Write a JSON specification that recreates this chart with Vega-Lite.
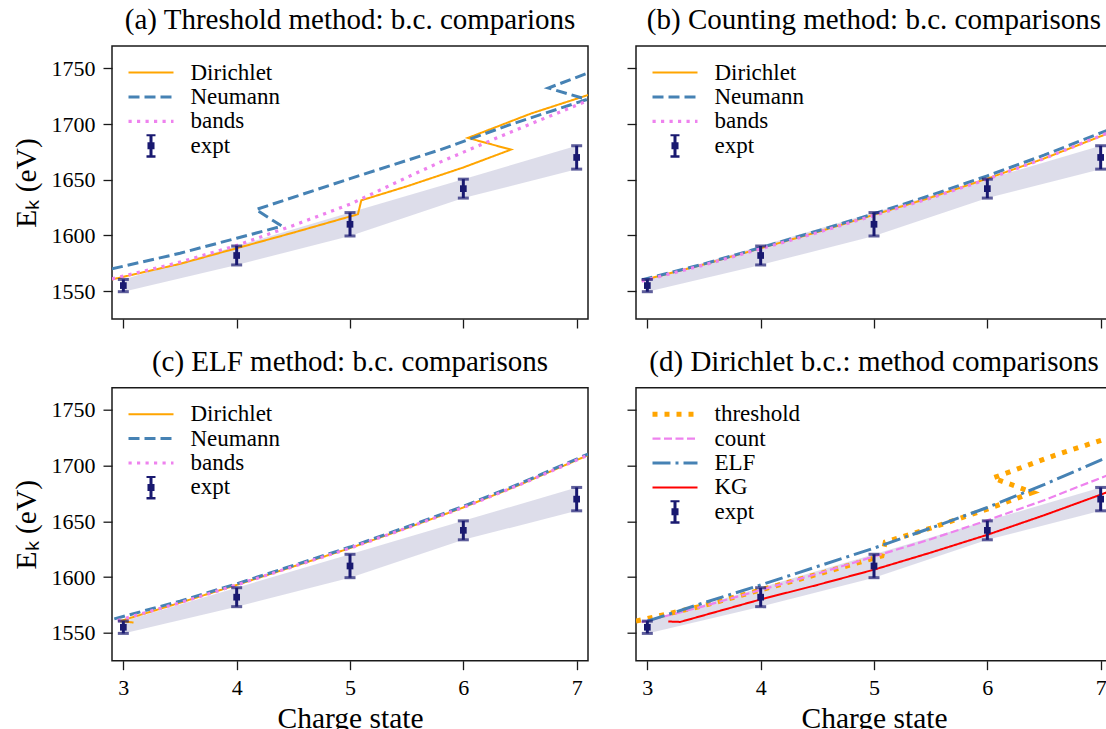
{
  "$schema": "https://vega.github.io/schema/vega-lite/v6.json",
  "padding": {"left": 10, "top": 5, "right": 0, "bottom": 0},
  "config": {
    "font": "Liberation Serif",
    "view": {"stroke": "#1a1a1a", "strokeWidth": 1.5},
    "axis": {
      "domain": false, "grid": false, "ticks": true, "tickSize": 9, "tickWidth": 1.3, "tickColor": "#1a1a1a",
      "labelFont": "Liberation Serif", "labelFontSize": 22, "labelColor": "#000", "labelPadding": 8,
      "titleFont": "Liberation Serif", "titleFontSize": 29.5, "titleFontWeight": "normal", "titleColor": "#000"
    },
    "axisY": {"titlePadding": 10, "format": "d"},
    "axisX": {"titlePadding": 6, "format": "d"},
    "legend": {
      "orient": "top-left", "offset": 6, "padding": 9,
      "labelFont": "Liberation Serif", "labelFontSize": 23, "labelColor": "#000",
      "symbolSize": 2025, "clipHeight": 23, "rowPadding": 0.4, "symbolOffset": 12.5, "labelOffset": 28
    },
    "title": {"font": "Liberation Serif", "fontSize": 29, "fontWeight": "normal", "color": "#000", "anchor": "middle", "baseline": "alphabetic", "offset": 11}
  },
  "datasets": {
    "expt": [
      {"x": 3, "y": 1555, "lo": 1549.5, "hi": 1560.5},
      {"x": 4, "y": 1582, "lo": 1573.5, "hi": 1590.5},
      {"x": 5, "y": 1610, "lo": 1599.5, "hi": 1620.5},
      {"x": 6, "y": 1642, "lo": 1633.5, "hi": 1650.5},
      {"x": 7, "y": 1670, "lo": 1659.5, "hi": 1680.5}
    ],
    "a": [
      {"series": "Dirichlet", "i": 0, "x": 2.9, "y": 1560.5},
      {"series": "Dirichlet", "i": 1, "x": 3.5, "y": 1574.5},
      {"series": "Dirichlet", "i": 2, "x": 4, "y": 1588.5},
      {"series": "Dirichlet", "i": 3, "x": 4.5, "y": 1602.5},
      {"series": "Dirichlet", "i": 4, "x": 5, "y": 1617},
      {"series": "Dirichlet", "i": 5, "x": 5.07, "y": 1619},
      {"series": "Dirichlet", "i": 6, "x": 5.1, "y": 1631.5},
      {"series": "Dirichlet", "i": 7, "x": 5.5, "y": 1644},
      {"series": "Dirichlet", "i": 8, "x": 6, "y": 1661},
      {"series": "Dirichlet", "i": 9, "x": 6.42, "y": 1677},
      {"series": "Dirichlet", "i": 10, "x": 6.04, "y": 1687.5},
      {"series": "Dirichlet", "i": 11, "x": 6.6, "y": 1709.5},
      {"series": "Dirichlet", "i": 12, "x": 7.1, "y": 1726},
      {"series": "Neumann", "i": 0, "x": 2.9, "y": 1570},
      {"series": "Neumann", "i": 1, "x": 3.5, "y": 1584},
      {"series": "Neumann", "i": 2, "x": 4, "y": 1597.5},
      {"series": "Neumann", "i": 3, "x": 4.4, "y": 1608.3},
      {"series": "Neumann", "i": 4, "x": 4.17, "y": 1623.2},
      {"series": "Neumann", "i": 5, "x": 5, "y": 1651},
      {"series": "Neumann", "i": 6, "x": 5.8, "y": 1677},
      {"series": "Neumann", "i": 7, "x": 6.4, "y": 1699},
      {"series": "Neumann", "i": 8, "x": 7.09, "y": 1722},
      {"series": "Neumann", "i": 9, "x": 6.75, "y": 1732.3},
      {"series": "Neumann", "i": 10, "x": 7.1, "y": 1745.8},
      {"series": "bands", "i": 0, "x": 2.9, "y": 1561},
      {"series": "bands", "i": 1, "x": 3.5, "y": 1576},
      {"series": "bands", "i": 2, "x": 4, "y": 1591},
      {"series": "bands", "i": 3, "x": 4.5, "y": 1609},
      {"series": "bands", "i": 4, "x": 5, "y": 1628},
      {"series": "bands", "i": 5, "x": 5.5, "y": 1652},
      {"series": "bands", "i": 6, "x": 5.8, "y": 1666},
      {"series": "bands", "i": 7, "x": 6.4, "y": 1692},
      {"series": "bands", "i": 8, "x": 7.1, "y": 1721}
    ],
    "b": [
      {"series": "Dirichlet", "i": 0, "x": 2.95, "y": 1559.5},
      {"series": "Dirichlet", "i": 1, "x": 3.5, "y": 1574},
      {"series": "Dirichlet", "i": 2, "x": 4, "y": 1588.5},
      {"series": "Dirichlet", "i": 3, "x": 4.5, "y": 1603},
      {"series": "Dirichlet", "i": 4, "x": 5, "y": 1618.5},
      {"series": "Dirichlet", "i": 5, "x": 5.5, "y": 1634},
      {"series": "Dirichlet", "i": 6, "x": 6, "y": 1651},
      {"series": "Dirichlet", "i": 7, "x": 6.5, "y": 1669},
      {"series": "Dirichlet", "i": 8, "x": 7, "y": 1689},
      {"series": "Dirichlet", "i": 9, "x": 7.1, "y": 1693},
      {"series": "Neumann", "i": 0, "x": 2.95, "y": 1560},
      {"series": "Neumann", "i": 1, "x": 3.5, "y": 1574.5},
      {"series": "Neumann", "i": 2, "x": 4, "y": 1589},
      {"series": "Neumann", "i": 3, "x": 4.5, "y": 1604},
      {"series": "Neumann", "i": 4, "x": 5, "y": 1619.5},
      {"series": "Neumann", "i": 5, "x": 5.5, "y": 1636},
      {"series": "Neumann", "i": 6, "x": 6, "y": 1653.5},
      {"series": "Neumann", "i": 7, "x": 6.5, "y": 1672},
      {"series": "Neumann", "i": 8, "x": 7, "y": 1692},
      {"series": "Neumann", "i": 9, "x": 7.1, "y": 1696},
      {"series": "bands", "i": 0, "x": 2.95, "y": 1559},
      {"series": "bands", "i": 1, "x": 3.5, "y": 1573.5},
      {"series": "bands", "i": 2, "x": 4, "y": 1588},
      {"series": "bands", "i": 3, "x": 4.5, "y": 1602.5},
      {"series": "bands", "i": 4, "x": 5, "y": 1618},
      {"series": "bands", "i": 5, "x": 5.5, "y": 1633.5},
      {"series": "bands", "i": 6, "x": 6, "y": 1650.5},
      {"series": "bands", "i": 7, "x": 6.5, "y": 1669},
      {"series": "bands", "i": 8, "x": 7, "y": 1689.5},
      {"series": "bands", "i": 9, "x": 7.1, "y": 1693.5}
    ],
    "c": [
      {"series": "Dirichlet", "i": 0, "x": 3.09, "y": 1559.3},
      {"series": "Dirichlet", "i": 1, "x": 2.97, "y": 1560.5},
      {"series": "Dirichlet", "i": 2, "x": 3.5, "y": 1577},
      {"series": "Dirichlet", "i": 3, "x": 4, "y": 1593},
      {"series": "Dirichlet", "i": 4, "x": 4.5, "y": 1609.5},
      {"series": "Dirichlet", "i": 5, "x": 5, "y": 1626},
      {"series": "Dirichlet", "i": 6, "x": 5.5, "y": 1644},
      {"series": "Dirichlet", "i": 7, "x": 6, "y": 1662.5},
      {"series": "Dirichlet", "i": 8, "x": 6.5, "y": 1683},
      {"series": "Dirichlet", "i": 9, "x": 7, "y": 1705},
      {"series": "Dirichlet", "i": 10, "x": 7.1, "y": 1709.5},
      {"series": "Neumann", "i": 0, "x": 2.92, "y": 1562.5},
      {"series": "Neumann", "i": 1, "x": 3.5, "y": 1578.5},
      {"series": "Neumann", "i": 2, "x": 4, "y": 1594},
      {"series": "Neumann", "i": 3, "x": 4.5, "y": 1610.5},
      {"series": "Neumann", "i": 4, "x": 5, "y": 1627},
      {"series": "Neumann", "i": 5, "x": 5.5, "y": 1645},
      {"series": "Neumann", "i": 6, "x": 6, "y": 1663.5},
      {"series": "Neumann", "i": 7, "x": 6.5, "y": 1684},
      {"series": "Neumann", "i": 8, "x": 7, "y": 1706},
      {"series": "Neumann", "i": 9, "x": 7.1, "y": 1710.5},
      {"series": "bands", "i": 0, "x": 2.95, "y": 1561},
      {"series": "bands", "i": 1, "x": 3.5, "y": 1577},
      {"series": "bands", "i": 2, "x": 4, "y": 1593},
      {"series": "bands", "i": 3, "x": 4.5, "y": 1609.5},
      {"series": "bands", "i": 4, "x": 5, "y": 1626},
      {"series": "bands", "i": 5, "x": 5.5, "y": 1644},
      {"series": "bands", "i": 6, "x": 6, "y": 1662.5},
      {"series": "bands", "i": 7, "x": 6.5, "y": 1683},
      {"series": "bands", "i": 8, "x": 7, "y": 1705},
      {"series": "bands", "i": 9, "x": 7.1, "y": 1709.5}
    ],
    "d": [
      {"series": "threshold", "i": 0, "x": 2.9, "y": 1560.5},
      {"series": "threshold", "i": 1, "x": 3.5, "y": 1574.5},
      {"series": "threshold", "i": 2, "x": 4, "y": 1588.5},
      {"series": "threshold", "i": 3, "x": 4.5, "y": 1602.5},
      {"series": "threshold", "i": 4, "x": 5, "y": 1617},
      {"series": "threshold", "i": 5, "x": 5.07, "y": 1619},
      {"series": "threshold", "i": 6, "x": 5.1, "y": 1631.5},
      {"series": "threshold", "i": 7, "x": 5.5, "y": 1644},
      {"series": "threshold", "i": 8, "x": 6, "y": 1661},
      {"series": "threshold", "i": 9, "x": 6.4, "y": 1676},
      {"series": "threshold", "i": 10, "x": 6.05, "y": 1689},
      {"series": "threshold", "i": 11, "x": 6.6, "y": 1709.5},
      {"series": "threshold", "i": 12, "x": 7.1, "y": 1726},
      {"series": "count", "i": 0, "x": 2.95, "y": 1559.5},
      {"series": "count", "i": 1, "x": 3.5, "y": 1574},
      {"series": "count", "i": 2, "x": 4, "y": 1588.5},
      {"series": "count", "i": 3, "x": 4.5, "y": 1603},
      {"series": "count", "i": 4, "x": 5, "y": 1618.5},
      {"series": "count", "i": 5, "x": 5.5, "y": 1634},
      {"series": "count", "i": 6, "x": 6, "y": 1651},
      {"series": "count", "i": 7, "x": 6.5, "y": 1669},
      {"series": "count", "i": 8, "x": 7, "y": 1689},
      {"series": "count", "i": 9, "x": 7.1, "y": 1693},
      {"series": "ELF", "i": 0, "x": 3.0, "y": 1560.5},
      {"series": "ELF", "i": 1, "x": 3.5, "y": 1577},
      {"series": "ELF", "i": 2, "x": 4, "y": 1593},
      {"series": "ELF", "i": 3, "x": 4.5, "y": 1609.5},
      {"series": "ELF", "i": 4, "x": 5, "y": 1626},
      {"series": "ELF", "i": 5, "x": 5.5, "y": 1644},
      {"series": "ELF", "i": 6, "x": 6, "y": 1662.5},
      {"series": "ELF", "i": 7, "x": 6.5, "y": 1683},
      {"series": "ELF", "i": 8, "x": 7, "y": 1705},
      {"series": "ELF", "i": 9, "x": 7.1, "y": 1709.5},
      {"series": "KG", "i": 0, "x": 3.185, "y": 1560.2},
      {"series": "KG", "i": 1, "x": 3.29, "y": 1559.8},
      {"series": "KG", "i": 2, "x": 4, "y": 1580},
      {"series": "KG", "i": 3, "x": 4.5, "y": 1593},
      {"series": "KG", "i": 4, "x": 5, "y": 1606.7},
      {"series": "KG", "i": 5, "x": 5.5, "y": 1622},
      {"series": "KG", "i": 6, "x": 6, "y": 1638},
      {"series": "KG", "i": 7, "x": 6.5, "y": 1655.5},
      {"series": "KG", "i": 8, "x": 7, "y": 1674},
      {"series": "KG", "i": 9, "x": 7.1, "y": 1678}
    ]
  },
  "columns": 2,
  "bounds": "flush",
  "spacing": {"row": 68.7, "column": 48},
  "resolve": {
    "scale": {"color": "independent", "strokeDash": "independent"},
    "legend": {"color": "independent", "strokeDash": "independent"}
  },
  "concat": [
    {
      "title": {"text": "(a) Threshold method: b.c. comparions"},
      "width": 476, "height": 273,
      "encoding": {
        "x": {"field": "x", "type": "quantitative", "scale": {"domain": [2.9, 7.1], "nice": false}, "axis": {"values": [3, 4, 5, 6, 7], "labels": false}, "title": null}
      },
      "layer": [
        {
          "data": {"name": "expt"},
          "mark": {"type": "area", "color": "#191970", "opacity": 0.15},
          "encoding": {
            "y": {"field": "lo", "type": "quantitative", "scale": {"domain": [1525, 1770], "nice": false, "zero": false}, "axis": {"values": [1550, 1600, 1650, 1700, 1750]}, "title": "Eₖ (eV)"},
            "y2": {"field": "hi"}
          }
        },
        {
          "data": {"name": "a"},
          "mark": {"type": "line", "clip": true, "strokeCap": "butt"},
          "encoding": {
            "y": {"field": "y", "type": "quantitative", "title": "Eₖ (eV)"},
            "order": {"field": "i", "type": "quantitative"},
            "color": {"field": "series", "type": "nominal",
              "scale": {"domain": ["Dirichlet", "Neumann", "bands", "expt"], "range": ["#FFA500", "#4682B4", "#EE82EE", "#191970"]},
              "legend": {"title": null, "encode": {"symbols": {"update": {
                "shape": {"signal": "datum.value === 'expt' ? 'M-0.2,-0.49H0.2M0,-0.49V0.49M-0.2,0.49H0.2M-0.09,-0.09H0.09V0.09H-0.09Z' : 'stroke'"},
                "strokeWidth": {"signal": "datum.value === 'Neumann' ? 3 : datum.value === 'bands' ? 3.2 : datum.value === 'expt' ? 3 : 2"}
              }}}}},
            "strokeDash": {"field": "series", "type": "nominal",
              "scale": {"domain": ["Dirichlet", "Neumann", "bands", "expt"], "range": [[1, 0], [11, 5], [3.2, 5.3], [1, 0]]},
              "legend": {"title": null, "encode": {"symbols": {"update": {
                "shape": {"signal": "datum.value === 'expt' ? 'M-0.2,-0.49H0.2M0,-0.49V0.49M-0.2,0.49H0.2M-0.09,-0.09H0.09V0.09H-0.09Z' : 'stroke'"},
                "strokeWidth": {"signal": "datum.value === 'Neumann' ? 3 : datum.value === 'bands' ? 3.2 : datum.value === 'expt' ? 3 : 2"}
              }}}}},
            "strokeWidth": {"condition": [{"test": "datum.series === 'Neumann'", "value": 3}, {"test": "datum.series === 'bands'", "value": 3.2}], "value": 2}
          }
        },
        {
          "data": {"name": "expt"},
          "mark": {"type": "errorbar", "color": "#191970", "thickness": 3, "ticks": {"size": 11, "thickness": 3}},
          "encoding": {
            "y": {"field": "lo", "type": "quantitative", "title": "Eₖ (eV)"},
            "y2": {"field": "hi"}
          }
        },
        {
          "data": {"name": "expt"},
          "mark": {"type": "point", "shape": "square", "filled": true, "size": 45, "color": "#191970", "opacity": 1},
          "encoding": {"y": {"field": "y", "type": "quantitative", "title": "Eₖ (eV)"}}
        }
      ]
    },
    {
      "title": {"text": "(b) Counting method: b.c. comparisons"},
      "width": 476, "height": 273,
      "encoding": {
        "x": {"field": "x", "type": "quantitative", "scale": {"domain": [2.9, 7.1], "nice": false}, "axis": {"values": [3, 4, 5, 6, 7], "labels": false}, "title": null}
      },
      "layer": [
        {
          "data": {"name": "expt"},
          "mark": {"type": "area", "color": "#191970", "opacity": 0.15},
          "encoding": {
            "y": {"field": "lo", "type": "quantitative", "scale": {"domain": [1525, 1770], "nice": false, "zero": false}, "axis": {"values": [1550, 1600, 1650, 1700, 1750], "labels": false}, "title": null},
            "y2": {"field": "hi"}
          }
        },
        {
          "data": {"name": "b"},
          "mark": {"type": "line", "clip": true, "strokeCap": "butt"},
          "encoding": {
            "y": {"field": "y", "type": "quantitative", "title": null},
            "order": {"field": "i", "type": "quantitative"},
            "color": {"field": "series", "type": "nominal",
              "scale": {"domain": ["Dirichlet", "Neumann", "bands", "expt"], "range": ["#FFA500", "#4682B4", "#EE82EE", "#191970"]},
              "legend": {"title": null, "encode": {"symbols": {"update": {
                "shape": {"signal": "datum.value === 'expt' ? 'M-0.2,-0.49H0.2M0,-0.49V0.49M-0.2,0.49H0.2M-0.09,-0.09H0.09V0.09H-0.09Z' : 'stroke'"},
                "strokeWidth": {"signal": "datum.value === 'Neumann' ? 3 : datum.value === 'bands' ? 3.2 : datum.value === 'expt' ? 3 : 2"}
              }}}}},
            "strokeDash": {"field": "series", "type": "nominal",
              "scale": {"domain": ["Dirichlet", "Neumann", "bands", "expt"], "range": [[1, 0], [11, 5], [3.2, 5.3], [1, 0]]},
              "legend": {"title": null, "encode": {"symbols": {"update": {
                "shape": {"signal": "datum.value === 'expt' ? 'M-0.2,-0.49H0.2M0,-0.49V0.49M-0.2,0.49H0.2M-0.09,-0.09H0.09V0.09H-0.09Z' : 'stroke'"},
                "strokeWidth": {"signal": "datum.value === 'Neumann' ? 3 : datum.value === 'bands' ? 3.2 : datum.value === 'expt' ? 3 : 2"}
              }}}}},
            "strokeWidth": {"condition": [{"test": "datum.series === 'Neumann'", "value": 3}, {"test": "datum.series === 'bands'", "value": 3.2}], "value": 2}
          }
        },
        {
          "data": {"name": "expt"},
          "mark": {"type": "errorbar", "color": "#191970", "thickness": 3, "ticks": {"size": 11, "thickness": 3}},
          "encoding": {
            "y": {"field": "lo", "type": "quantitative", "title": null},
            "y2": {"field": "hi"}
          }
        },
        {
          "data": {"name": "expt"},
          "mark": {"type": "point", "shape": "square", "filled": true, "size": 45, "color": "#191970", "opacity": 1},
          "encoding": {"y": {"field": "y", "type": "quantitative", "title": null}}
        }
      ]
    },
    {
      "title": {"text": "(c) ELF method: b.c. comparisons"},
      "width": 476, "height": 273,
      "encoding": {
        "x": {"field": "x", "type": "quantitative", "scale": {"domain": [2.9, 7.1], "nice": false}, "axis": {"values": [3, 4, 5, 6, 7]}, "title": "Charge state"}
      },
      "layer": [
        {
          "data": {"name": "expt"},
          "mark": {"type": "area", "color": "#191970", "opacity": 0.15},
          "encoding": {
            "y": {"field": "lo", "type": "quantitative", "scale": {"domain": [1525, 1770], "nice": false, "zero": false}, "axis": {"values": [1550, 1600, 1650, 1700, 1750]}, "title": "Eₖ (eV)"},
            "y2": {"field": "hi"}
          }
        },
        {
          "data": {"name": "c"},
          "mark": {"type": "line", "clip": true, "strokeCap": "butt"},
          "encoding": {
            "y": {"field": "y", "type": "quantitative", "title": "Eₖ (eV)"},
            "order": {"field": "i", "type": "quantitative"},
            "color": {"field": "series", "type": "nominal",
              "scale": {"domain": ["Dirichlet", "Neumann", "bands", "expt"], "range": ["#FFA500", "#4682B4", "#EE82EE", "#191970"]},
              "legend": {"title": null, "encode": {"symbols": {"update": {
                "shape": {"signal": "datum.value === 'expt' ? 'M-0.2,-0.49H0.2M0,-0.49V0.49M-0.2,0.49H0.2M-0.09,-0.09H0.09V0.09H-0.09Z' : 'stroke'"},
                "strokeWidth": {"signal": "datum.value === 'Neumann' ? 3 : datum.value === 'bands' ? 3.2 : datum.value === 'expt' ? 3 : 2"}
              }}}}},
            "strokeDash": {"field": "series", "type": "nominal",
              "scale": {"domain": ["Dirichlet", "Neumann", "bands", "expt"], "range": [[1, 0], [11, 5], [3.2, 5.3], [1, 0]]},
              "legend": {"title": null, "encode": {"symbols": {"update": {
                "shape": {"signal": "datum.value === 'expt' ? 'M-0.2,-0.49H0.2M0,-0.49V0.49M-0.2,0.49H0.2M-0.09,-0.09H0.09V0.09H-0.09Z' : 'stroke'"},
                "strokeWidth": {"signal": "datum.value === 'Neumann' ? 3 : datum.value === 'bands' ? 3.2 : datum.value === 'expt' ? 3 : 2"}
              }}}}},
            "strokeWidth": {"condition": [{"test": "datum.series === 'Neumann'", "value": 3}, {"test": "datum.series === 'bands'", "value": 3.2}], "value": 2}
          }
        },
        {
          "data": {"name": "expt"},
          "mark": {"type": "errorbar", "color": "#191970", "thickness": 3, "ticks": {"size": 11, "thickness": 3}},
          "encoding": {
            "y": {"field": "lo", "type": "quantitative", "title": "Eₖ (eV)"},
            "y2": {"field": "hi"}
          }
        },
        {
          "data": {"name": "expt"},
          "mark": {"type": "point", "shape": "square", "filled": true, "size": 45, "color": "#191970", "opacity": 1},
          "encoding": {"y": {"field": "y", "type": "quantitative", "title": "Eₖ (eV)"}}
        }
      ]
    },
    {
      "title": {"text": "(d) Dirichlet b.c.: method comparisons"},
      "width": 476, "height": 273,
      "encoding": {
        "x": {"field": "x", "type": "quantitative", "scale": {"domain": [2.9, 7.1], "nice": false}, "axis": {"values": [3, 4, 5, 6, 7]}, "title": "Charge state"}
      },
      "layer": [
        {
          "data": {"name": "expt"},
          "mark": {"type": "area", "color": "#191970", "opacity": 0.15},
          "encoding": {
            "y": {"field": "lo", "type": "quantitative", "scale": {"domain": [1525, 1770], "nice": false, "zero": false}, "axis": {"values": [1550, 1600, 1650, 1700, 1750], "labels": false}, "title": null},
            "y2": {"field": "hi"}
          }
        },
        {
          "data": {"name": "d"},
          "mark": {"type": "line", "clip": true, "strokeCap": "butt"},
          "encoding": {
            "y": {"field": "y", "type": "quantitative", "title": null},
            "order": {"field": "i", "type": "quantitative"},
            "color": {"field": "series", "type": "nominal",
              "scale": {"domain": ["threshold", "count", "ELF", "KG", "expt"], "range": ["#FFA500", "#EE82EE", "#4682B4", "#FF0000", "#191970"]},
              "legend": {"title": null, "encode": {"symbols": {"update": {
                "shape": {"signal": "datum.value === 'expt' ? 'M-0.2,-0.49H0.2M0,-0.49V0.49M-0.2,0.49H0.2M-0.09,-0.09H0.09V0.09H-0.09Z' : 'stroke'"},
                "strokeWidth": {"signal": "datum.value === 'threshold' ? 5 : datum.value === 'count' ? 2.2 : datum.value === 'ELF' ? 3 : datum.value === 'expt' ? 3 : 2"}
              }}}}},
            "strokeDash": {"field": "series", "type": "nominal",
              "scale": {"domain": ["threshold", "count", "ELF", "KG", "expt"], "range": [[5, 7], [8, 3.5], [18, 5, 3, 5], [1, 0], [1, 0]]},
              "legend": {"title": null, "encode": {"symbols": {"update": {
                "shape": {"signal": "datum.value === 'expt' ? 'M-0.2,-0.49H0.2M0,-0.49V0.49M-0.2,0.49H0.2M-0.09,-0.09H0.09V0.09H-0.09Z' : 'stroke'"},
                "strokeWidth": {"signal": "datum.value === 'threshold' ? 5 : datum.value === 'count' ? 2.2 : datum.value === 'ELF' ? 3 : datum.value === 'expt' ? 3 : 2"}
              }}}}},
            "strokeWidth": {"condition": [{"test": "datum.series === 'threshold'", "value": 5}, {"test": "datum.series === 'count'", "value": 2.2}, {"test": "datum.series === 'ELF'", "value": 3}], "value": 2}
          }
        },
        {
          "data": {"name": "expt"},
          "mark": {"type": "errorbar", "color": "#191970", "thickness": 3, "ticks": {"size": 11, "thickness": 3}},
          "encoding": {
            "y": {"field": "lo", "type": "quantitative", "title": null},
            "y2": {"field": "hi"}
          }
        },
        {
          "data": {"name": "expt"},
          "mark": {"type": "point", "shape": "square", "filled": true, "size": 45, "color": "#191970", "opacity": 1},
          "encoding": {"y": {"field": "y", "type": "quantitative", "title": null}}
        }
      ]
    }
  ]
}
